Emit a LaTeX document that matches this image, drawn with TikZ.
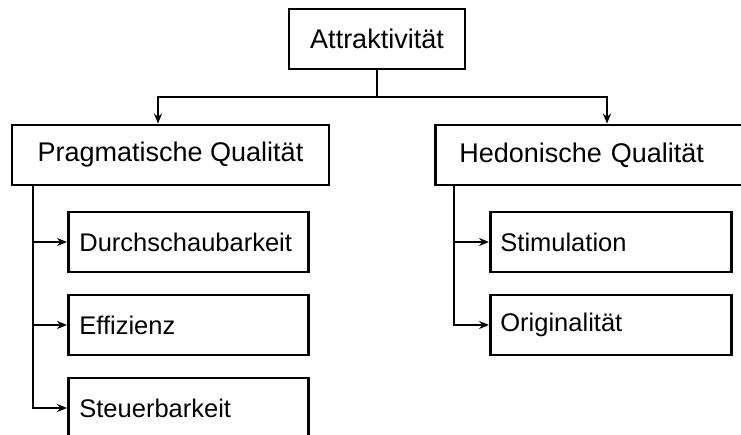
\documentclass[tikz,border=0pt]{standalone}
\usepackage{fontspec}
\setmainfont{Liberation Sans}
\usetikzlibrary{arrows.meta}
\begin{document}
\begin{tikzpicture}[x=1pt,y=-1pt,
  box/.style={draw, line width=2.8pt, minimum height=60pt, inner sep=0pt,
    font=\fontsize{27}{32}\selectfont},
  lbox/.style={box, anchor=west, align=left, inner xsep=11pt, text width=218pt,
    font=\fontsize{25.5}{30}\selectfont},
  conn/.style={line width=1.7pt},
  arr/.style={conn, -{Stealth[length=10pt,width=8pt]}}]
\clip (0,0) rectangle (741,435);
\fill[white] (0,0) rectangle (741,435);
\node[box, minimum width=176pt] (A) at (377,39) {Attraktivität};
\node[box, minimum width=317pt] (P) at (170.5,155) {Pragmatische Qualität};
\node[box, anchor=west, align=left, inner xsep=24pt, text width=270pt] (H) at (434,155) {Hedonische Qualität};
\node[lbox] (D) at (67,242) {Durchschaubarkeit};
\node[lbox] (E) at (67,325) {Effizienz};
\node[lbox] (S) at (67,408) {Steuerbarkeit};
\node[lbox, inner xsep=10pt, text width=221pt] (St) at (489,242) {Stimulation};
\node[lbox, inner xsep=10pt, text width=221pt] (O) at (489,325) {Originalität};
\coordinate (j) at (377,97);
\coordinate (jl) at (158,97);
\coordinate (jr) at (607,97);
\coordinate (pl) at (33,185);
\coordinate (hl) at (454,185);
\draw[conn] (A.south) -- (j);
\draw[arr] (j) -| (jl |- P.north);
\draw[arr] (j) -| (jr |- H.north);
\draw[arr] (pl |- P.south) |- (S.west);
\draw[arr] (pl |- D.west) -- (D.west);
\draw[arr] (pl |- E.west) -- (E.west);
\draw[arr] (hl |- H.south) |- (O.west);
\draw[arr] (hl |- St.west) -- (St.west);
\end{tikzpicture}
\end{document}
